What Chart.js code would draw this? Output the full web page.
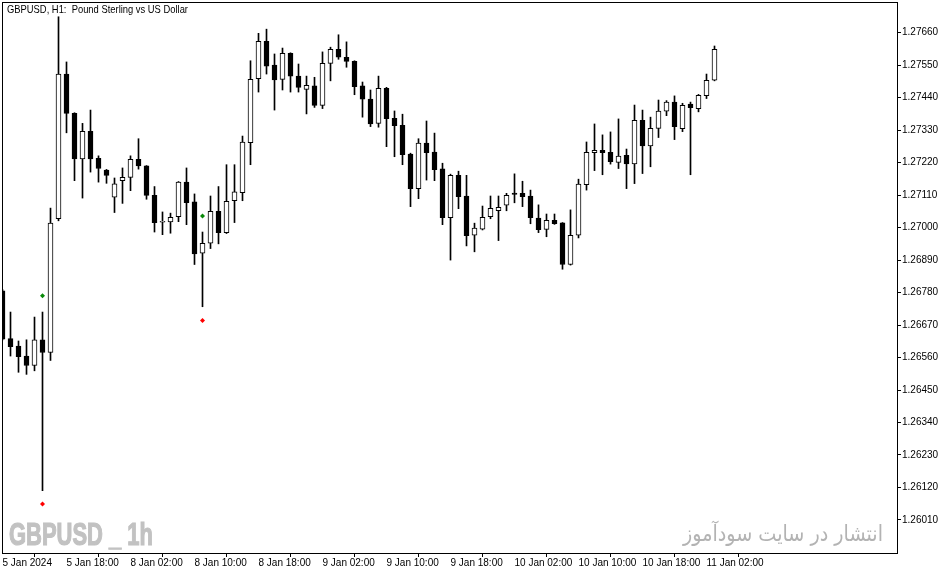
<!DOCTYPE html>
<html>
<head>
<meta charset="utf-8">
<script src="https://cdn.jsdelivr.net/npm/chart.js@4"></script>
<style>
  html, body { margin: 0; padding: 0; background: #fff; }
  #wrap { width: 951px; height: 574px; position: relative; }
</style>
</head>
<body>
<div id="wrap"><canvas id="mainChart"></canvas></div>
<script>
// --- Data (GBPUSD H1) ---
const opens = [
  1.26786, 1.26624, 1.26599, 1.26565, 1.26533, 1.26620, 1.26577, 1.27030, 1.27520, 1.27387,
  1.27233, 1.27326, 1.27235, 1.27195, 1.27103, 1.27159, 1.27170, 1.27231, 1.27209, 1.27109,
  1.27018, 1.27019, 1.27037, 1.27154, 1.27087, 1.26913, 1.26947, 1.27055, 1.26983, 1.27091,
  1.27118, 1.27288, 1.27504, 1.27631, 1.27550, 1.27502, 1.27590, 1.27513, 1.27468, 1.27480,
  1.27414, 1.27556, 1.27604, 1.27577, 1.27563, 1.27480, 1.27435, 1.27353, 1.27472, 1.27370,
  1.27346, 1.27249, 1.27132, 1.27286, 1.27256, 1.27199, 1.27034, 1.27177, 1.27107, 1.26974,
  1.26995, 1.27037, 1.27057, 1.27076, 1.27117, 1.27116, 1.27107, 1.27032, 1.26994, 1.27025,
  1.27016, 1.26875, 1.26974, 1.27145, 1.27254, 1.27262, 1.27255, 1.27221, 1.27245, 1.27216,
  1.27363, 1.27277, 1.27336, 1.27394, 1.27425, 1.27335, 1.27418, 1.27403, 1.27447, 1.27499
];
const highs = [
  1.26790, 1.26714, 1.26616, 1.26620, 1.26697, 1.26714, 1.27066, 1.27714, 1.27561, 1.27389,
  1.27353, 1.27398, 1.27243, 1.27197, 1.27168, 1.27202, 1.27243, 1.27301, 1.27210, 1.27139,
  1.27053, 1.27049, 1.27156, 1.27202, 1.27114, 1.26985, 1.27107, 1.27139, 1.27213, 1.27213,
  1.27310, 1.27565, 1.27658, 1.27672, 1.27588, 1.27608, 1.27592, 1.27554, 1.27513, 1.27509,
  1.27595, 1.27611, 1.27653, 1.27629, 1.27565, 1.27493, 1.27466, 1.27513, 1.27475, 1.27395,
  1.27384, 1.27252, 1.27301, 1.27361, 1.27320, 1.27218, 1.27181, 1.27191, 1.27177, 1.27015,
  1.27073, 1.27107, 1.27107, 1.27116, 1.27182, 1.27157, 1.27127, 1.27077, 1.27046, 1.27046,
  1.27017, 1.27060, 1.27164, 1.27290, 1.27351, 1.27314, 1.27324, 1.27368, 1.27266, 1.27415,
  1.27398, 1.27374, 1.27432, 1.27430, 1.27446, 1.27421, 1.27425, 1.27451, 1.27520, 1.27615
];
const lows = [
  1.26620, 1.26565, 1.26510, 1.26503, 1.26515, 1.26109, 1.26550, 1.27023, 1.27321, 1.27159,
  1.27100, 1.27188, 1.27154, 1.27150, 1.27051, 1.27082, 1.27125, 1.27198, 1.27096, 1.26985,
  1.26976, 1.26981, 1.27020, 1.27010, 1.26875, 1.26732, 1.26929, 1.26945, 1.26980, 1.27017,
  1.27091, 1.27213, 1.27459, 1.27520, 1.27398, 1.27466, 1.27459, 1.27459, 1.27385, 1.27407,
  1.27403, 1.27497, 1.27570, 1.27543, 1.27450, 1.27374, 1.27342, 1.27340, 1.27274, 1.27240,
  1.27213, 1.27071, 1.27098, 1.27161, 1.27159, 1.27010, 1.26890, 1.27064, 1.26938, 1.26918,
  1.26992, 1.27030, 1.26956, 1.27057, 1.27084, 1.27071, 1.27013, 1.26983, 1.26969, 1.27011,
  1.26859, 1.26873, 1.26965, 1.27127, 1.27193, 1.27179, 1.27215, 1.27200, 1.27132, 1.27149,
  1.27183, 1.27206, 1.27305, 1.27379, 1.27298, 1.27325, 1.27179, 1.27392, 1.27437, 1.27497
];
const closes = [
  1.26622, 1.26597, 1.26563, 1.26533, 1.26620, 1.26577, 1.27015, 1.27520, 1.27387, 1.27233,
  1.27326, 1.27233, 1.27200, 1.27177, 1.27148, 1.27170, 1.27231, 1.27209, 1.27109, 1.27017,
  1.27018, 1.27035, 1.27154, 1.27084, 1.26911, 1.26947, 1.27055, 1.26983, 1.27089, 1.27121,
  1.27290, 1.27502, 1.27631, 1.27547, 1.27500, 1.27590, 1.27513, 1.27475, 1.27482, 1.27414,
  1.27556, 1.27604, 1.27577, 1.27563, 1.27477, 1.27435, 1.27351, 1.27472, 1.27369, 1.27345,
  1.27247, 1.27132, 1.27286, 1.27254, 1.27196, 1.27034, 1.27177, 1.27105, 1.26973, 1.26998,
  1.27035, 1.27065, 1.27069, 1.27109, 1.27112, 1.27105, 1.27034, 1.26993, 1.27025, 1.27013,
  1.26875, 1.26974, 1.27147, 1.27255, 1.27262, 1.27254, 1.27223, 1.27242, 1.27216, 1.27363,
  1.27277, 1.27336, 1.27395, 1.27425, 1.27342, 1.27414, 1.27406, 1.27448, 1.27499, 1.27604
];

// indicator arrows (bar index, price)
const arrowUpBars   = [5, 25];
const arrowUpPrices = [1.26769, 1.27039];
const arrowDnBars   = [5, 25];
const arrowDnPrices = [1.26064, 1.26685];

// axis ticks
const xTickBars   = [0, 8, 16, 24, 32, 40, 48, 56, 64, 72, 80, 88];
const xTickLabels = ['5 Jan 2024', '5 Jan 18:00', '8 Jan 02:00', '8 Jan 10:00', '8 Jan 18:00', '9 Jan 02:00',
                     '9 Jan 10:00', '9 Jan 18:00', '10 Jan 02:00', '10 Jan 10:00', '10 Jan 18:00', '11 Jan 02:00'];
const yTicks = [1.26010, 1.26120, 1.26230, 1.26340, 1.26450, 1.26560, 1.26670, 1.26780,
                1.26890, 1.27000, 1.27110, 1.27220, 1.27330, 1.27440, 1.27550, 1.27660];

const FONT = "'Liberation Sans', Arial, sans-serif";

const $ = id => document.getElementById(id);

// --- Frame + texts drawn on the canvas ---
const decor = {
  id: 'decor',
  beforeDatasetsDraw(c) {
    const ctx = c.ctx;
    const a = c.chartArea;
    ctx.save();
    ctx.fillStyle = '#c2c2c2';
    ctx.strokeStyle = '#c2c2c2';
    ctx.lineWidth = 1.2;
    ctx.font = "bold 31px 'Liberation Sans Narrow', 'Liberation Sans', sans-serif";
    ctx.textBaseline = 'alphabetic';
    ctx.textAlign = 'left';
    ctx.fillText('GBPUSD _ 1h', a.left + 7, 545, 144);
    ctx.strokeText('GBPUSD _ 1h', a.left + 7, 545, 144);

    ctx.fillStyle = '#b3b3b3';
    ctx.font = "22px 'DejaVu Sans', sans-serif";
    ctx.direction = 'rtl';
    ctx.textAlign = 'right';
    ctx.fillText('انتشار در سایت سودآموز', 883, 541, 200);
    ctx.restore();
  },
  afterDraw(c) {
    const ctx = c.ctx;
    const a = c.chartArea;
    ctx.save();
    ctx.strokeStyle = '#000';
    ctx.lineWidth = 1;
    ctx.strokeRect(a.left + 0.5, a.top + 0.5, a.right - a.left, a.bottom - a.top);
    ctx.fillStyle = '#000';
    ctx.font = '10.5px ' + FONT;
    ctx.textAlign = 'left';
    ctx.textBaseline = 'alphabetic';
    ctx.fillText('GBPUSD, H1:  Pound Sterling vs US Dollar', a.left + 5, 13, 181);
    ctx.restore();
  }
};

const idx = opens.map((_, i) => i);

const bodies = idx.map(i => ({ x: i, y: [opens[i], closes[i]] }));
const wicks  = idx.map(i => ({ x: i, y: [lows[i], highs[i]] }));
const bodyFill = idx.map(i => closes[i] >= opens[i] ? '#ffffff' : '#000000');

const noPad = s => { s.paddingLeft = 0; s.paddingRight = 0; s.paddingTop = 0; s.paddingBottom = 0; };

new Chart($('mainChart'), {
  type: 'bar',
  data: {
    datasets: [
      {
        label: 'Up arrows',
        type: 'scatter',
        data: arrowUpBars.map((b, i) => ({ x: b, y: arrowUpPrices[i] })),
        pointStyle: 'rectRot',
        pointRadius: 2.5,
        pointHoverRadius: 2.5,
        borderWidth: 0,
        backgroundColor: '#0a8a0a',
        order: 0,
      },
      {
        label: 'Down arrows',
        type: 'scatter',
        data: arrowDnBars.map((b, i) => ({ x: b, y: arrowDnPrices[i] })),
        pointStyle: 'rectRot',
        pointRadius: 2.5,
        pointHoverRadius: 2.5,
        borderWidth: 0,
        backgroundColor: '#ff0000',
        order: 0,
      },
      {
        label: 'Body',
        data: bodies,
        backgroundColor: bodyFill,
        borderColor: '#000',
        borderWidth: 1,
        borderSkipped: false,
        barThickness: 5,
        minBarLength: 1,
        grouped: false,
        order: 1,
      },
      {
        label: 'Wick',
        data: wicks,
        backgroundColor: '#000',
        borderWidth: 0,
        barThickness: 1,
        grouped: false,
        order: 2,
      },
    ],
  },
  options: {
    responsive: true,
    maintainAspectRatio: false,
    animation: false,
    events: [],
    layout: { autoPadding: false, padding: { left: 2, top: 2, right: 0, bottom: 0 } },
    plugins: { legend: { display: false }, tooltip: { enabled: false } },
    scales: {
      x: {
        type: 'linear',
        min: -0.0625,
        max: 111.8125,
        offset: false,
        border: { display: false },
        grid: { display: true, drawOnChartArea: false, drawTicks: true, tickLength: 4, color: '#000' },
        ticks: {
          autoSkip: false,
          maxRotation: 0,
          align: 'start',
          padding: 0,
          color: '#000',
          font: { family: FONT, size: 10 },
          callback: (v, i) => xTickLabels[i],
        },
        afterBuildTicks: s => { s.ticks = xTickBars.map(v => ({ value: v })); },
        afterFit: s => { s.height = 21; noPad(s); },
      },
      y: {
        position: 'right',
        min: 1.25898,
        max: 1.27764,
        border: { display: false },
        grid: { display: true, drawOnChartArea: false, drawTicks: true, tickLength: 4, color: '#000' },
        ticks: {
          padding: 1,
          color: '#000',
          font: { family: FONT, size: 10 },
          callback: v => v.toFixed(5),
        },
        afterBuildTicks: s => { s.ticks = yTicks.map(v => ({ value: v })); },
        afterFit: s => { s.width = 54; noPad(s); },
      },
    },
  },
  plugins: [decor],
});
</script>
</body>
</html>
